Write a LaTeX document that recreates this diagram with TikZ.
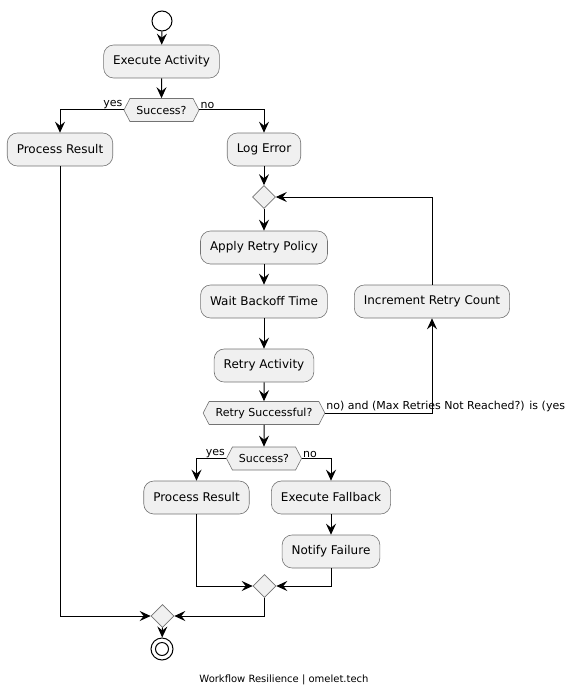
\documentclass[tikz,border=0pt]{standalone}
\usepackage{fontspec}
\setmainfont{DejaVu Sans}
\usetikzlibrary{shapes.geometric,shapes.symbols,arrows.meta}

\begin{document}
\begin{tikzpicture}[
  x=1pt, y=-1pt,
  act/.style={draw=black!55, fill=black!6, rounded corners=10pt, line width=0.6pt,
    minimum height=33pt, inner xsep=9.5pt, font=\fontsize{12}{14}\selectfont},
  test/.style={draw=black!55, fill=black!6, signal, signal to=west and east,
    signal pointer angle=125, minimum height=23pt, inner xsep=6.5pt, inner ysep=0pt,
    line width=0.6pt, font=\fontsize{11}{13}\selectfont},
  merge/.style={draw=black!55, fill=black!6, diamond, minimum width=23pt,
    minimum height=23pt, inner sep=0pt, line width=0.6pt},
  lbl/.style={font=\fontsize{11}{13}\selectfont, inner sep=1pt},
  flow/.style={-{Stealth[length=11pt, width=10pt, inset=4pt]}, line width=1pt}
  ]
  \useasboundingbox (0,0) rectangle (569,698);
  % nodes
  \node[circle, draw, line width=1pt, minimum size=20pt, inner sep=0pt] (start) at (162,21) {};
  \node[act] (exec) at (161.5,61.5) {Execute Activity};
  \node[test] (ok1) at (161.5,110) {Success?};
  \node[act] (pr1) at (60,149.5) {Process Result};
  \node[act] (logerr) at (264,149.5) {Log Error};
  \node[merge] (m1) at (264,197) {};
  \node[act] (apply) at (264,247.5) {Apply Retry Policy};
  \node[act] (wait) at (264,301.5) {Wait Backoff Time};
  \node[act] (incr) at (432,301.5) {Increment Retry Count};
  \node[act] (retry) at (264,365.5) {Retry Activity};
  \node[test] (ok2) at (264,413) {Retry Successful?};
  \node[test] (ok3) at (264,458.5) {Success?};
  \node[act] (pr2) at (196.5,497.5) {Process Result};
  \node[act] (fallback) at (331,497.5) {Execute Fallback};
  \node[act] (notify) at (331,551.5) {Notify Failure};
  \node[merge] (m2) at (264.5,586) {};
  \node[merge] (m3) at (162.5,616) {};
  \node[circle, draw, line width=1pt, minimum size=22pt, inner sep=0pt] (stop) at (162,649) {};
  \node[circle, draw, line width=1pt, minimum size=13pt, inner sep=0pt] (stopin) at (stop.center) {};
  % labels
  \node[lbl, anchor=south east] (yes1) at (ok1.west) {yes};
  \node[lbl, anchor=south west] (no1) at (ok1.east) {no};
  \node[lbl, anchor=south west] (again) at (ok2.east) {no) and (Max Retries Not Reached?) is (yes};
  \node[lbl, anchor=south east] (yes2) at (ok3.west) {yes};
  \node[lbl, anchor=south west] (no2) at (ok3.east) {no};
  \node[font=\fontsize{10}{12}\selectfont] (footer) at (284,680) {Workflow Resilience | omelet.tech};
  % connectors
  \draw[flow] (start) -- (exec);
  \draw[flow] (exec) -- (ok1);
  \draw[flow] (ok1.west) -| (pr1);
  \draw[flow] (ok1.east) -| (logerr);
  \draw[flow] (logerr) -- (m1);
  \draw[flow] (m1) -- (apply);
  \draw[flow] (apply) -- (wait);
  \draw[flow] (wait) -- (retry);
  \draw[flow] (retry) -- (ok2);
  \draw[flow] (ok2.east) -| (incr);
  \draw[flow] (incr) |- (m1);
  \draw[flow] (ok2) -- (ok3);
  \draw[flow] (ok3.west) -| (pr2);
  \draw[flow] (ok3.east) -| (fallback);
  \draw[flow] (fallback) -- (notify);
  \draw[flow] (pr2) |- (m2);
  \draw[flow] (notify) |- (m2);
  \draw[flow] (m2) |- (m3);
  \draw[flow] (pr1) |- (m3);
  \draw[flow] (m3) -- (stop);
\end{tikzpicture}
\end{document}
